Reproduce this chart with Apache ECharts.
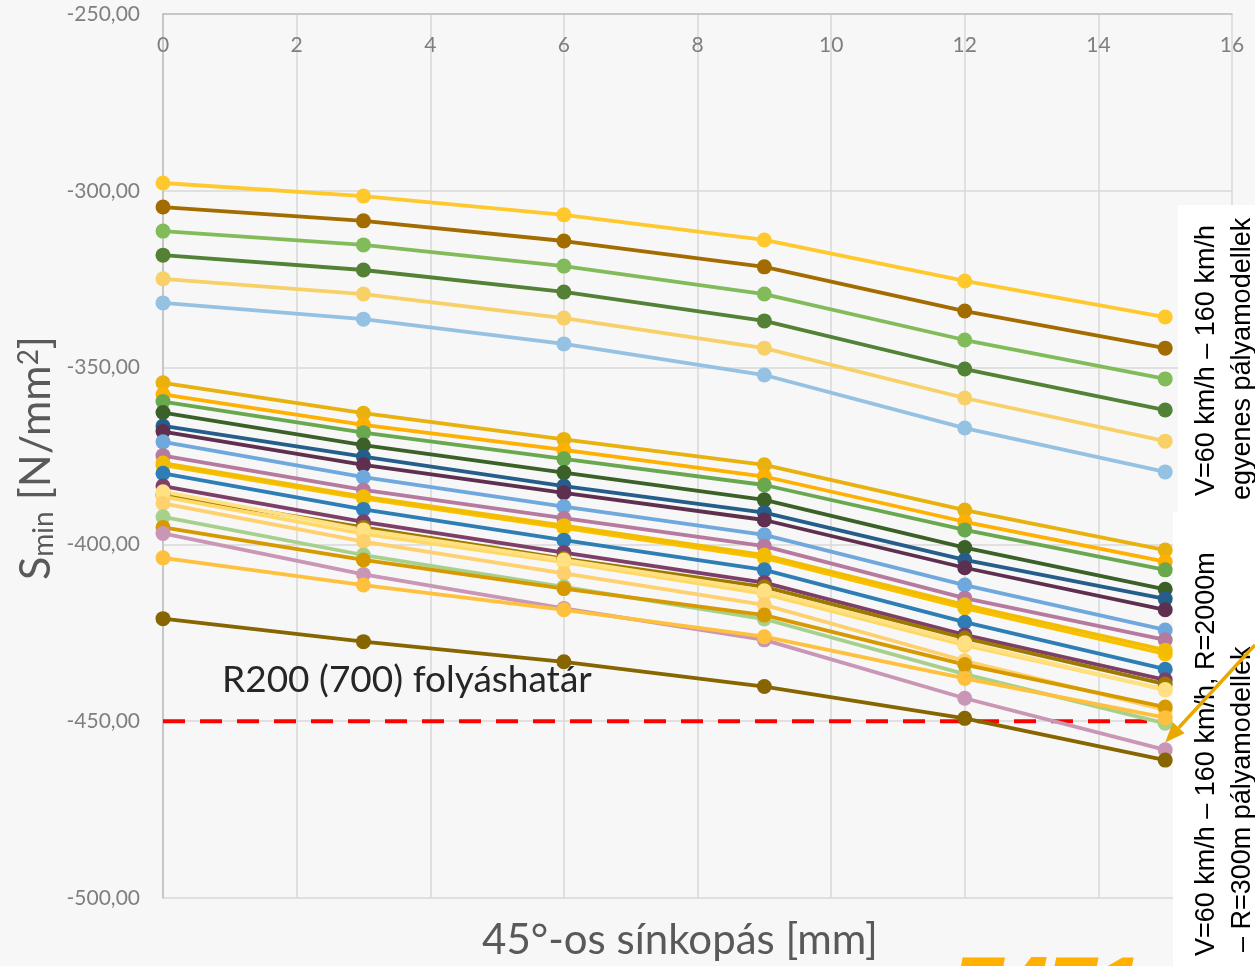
<!DOCTYPE html>
<html>
<head>
<meta charset="utf-8">
<script src="https://cdn.jsdelivr.net/npm/echarts@6/dist/echarts.min.js"></script>
<style>
  html, body { margin: 0; padding: 0; background: #f7f7f7; }
  #chart { width: 1255px; height: 966px; }
</style>
</head>
<body>
<div id="chart"></div>
<script>
// kopás értékek (x tengely)
const xValues = [0, 3, 6, 9, 12, 15];
const yTicks = [-500, -450, -400, -350, -300, -250];
const yieldLimit = -450;

// egyenes pályamodellek
const s01 = [-297.8, -301.5, -306.8, -313.9, -325.5, -335.7];
const s02 = [-304.6, -308.5, -314.2, -321.5, -334.0, -344.5];
const s03 = [-311.4, -315.3, -321.3, -329.2, -342.2, -353.2];
const s04 = [-318.2, -322.4, -328.6, -336.8, -350.4, -362.0];
const s05 = [-324.9, -329.2, -336.0, -344.5, -358.6, -370.8];
const s06 = [-331.7, -336.3, -343.3, -352.1, -367.1, -379.5];

// R=2000m ... R=300m pályamodellek
const s07 = [-354.3, -362.9, -370.3, -377.5, -390.3, -401.6];
const s08 = [-357.6, -366.2, -373.3, -380.8, -393.6, -404.9];
const s09 = [-359.6, -368.4, -375.8, -383.2, -395.9, -407.2];
const s10 = [-362.7, -371.9, -379.7, -387.4, -400.9, -412.7];
const s11 = [-366.5, -375.2, -383.5, -391.0, -404.4, -415.4];
const s12 = [-368.1, -377.5, -385.4, -393.1, -406.6, -418.5];
const s13 = [-371.0, -381.0, -389.3, -397.3, -411.5, -424.2];
const s14 = [-374.9, -384.6, -392.6, -400.5, -415.2, -427.0];
const s15 = [-377.6, -387.0, -395.3, -403.8, -418.0, -431.0];
const s16 = [-377.0, -386.5, -394.7, -403.0, -417.1, -429.9];
const s17 = [-379.9, -390.1, -398.8, -407.2, -422.0, -435.3];
const s18 = [-383.5, -393.6, -402.3, -410.8, -425.6, -438.3];
const s19 = [-386.0, -395.2, -404.0, -412.0, -426.5, -439.5];
const s20 = [-386.5, -397.0, -405.0, -414.0, -428.5, -441.0];
const s21 = [-385.1, -395.9, -404.4, -413.1, -427.8, -441.2];
const s22 = [-388.4, -399.2, -408.2, -417.1, -432.9, -446.8];
const s23 = [-392.2, -403.0, -412.0, -421.1, -436.7, -450.6];
const s24 = [-395.2, -404.4, -412.5, -420.0, -434.0, -446.0];
const s25 = [-396.9, -408.5, -418.1, -427.0, -443.5, -458.1];
const s26 = [-403.8, -411.5, -418.5, -426.1, -437.9, -449.0];
const s27 = [-421.0, -427.5, -433.2, -440.2, -449.2, -461.0];

const seriesList = [
  [s01, '#FFC92E'], [s02, '#A36C00'], [s03, '#82BC5A'], [s04, '#538135'],
  [s05, '#F7D068'], [s06, '#95C1E3'],
  [s07, '#E8B10E'], [s08, '#FFB000'], [s09, '#6AA84F'], [s10, '#3B6128'],
  [s11, '#255E8A'], [s12, '#5E2F4E'], [s13, '#6FA8DC'], [s14, '#B57A9E'],
  [s15, '#F9C000'], [s16, '#F2BC00'], [s17, '#2E7DB5'], [s18, '#7D3F68'],
  [s19, '#9C7A00'], [s20, '#FFD966'], [s21, '#FFE083'], [s22, '#FFD06E'],
  [s23, '#A8D08D'], [s24, '#D69A00'], [s25, '#C996B5'], [s26, '#FFC03E'],
  [s27, '#876500']
];

const chart = echarts.init(document.getElementById('chart'));

const series = seriesList.map(([vals, color], i) => ({
  name: 'S' + (i + 1),
  type: 'line',
  data: xValues.map((x, j) => [x, vals[j]]),
  symbol: 'circle',
  symbolSize: 15,
  lineStyle: { color: color, width: 3.8 },
  itemStyle: { color: color },
  z: 3,
  animation: false
}));

// folyáshatár
series.push({
  name: 'R200',
  type: 'line',
  data: [[xValues[0], yieldLimit], [xValues[xValues.length - 1] + 0.1, yieldLimit]],
  symbol: 'none',
  lineStyle: { color: '#FF0000', width: 4, type: [22, 15] },
  z: 2,
  animation: false
});

const option = {
  backgroundColor: '#f7f7f7',
  animation: false,
  grid: { left: 163, right: 23, top: 14, bottom: 68 },
  xAxis: {
    type: 'value',
    position: 'top',
    min: 0, max: 16, interval: 2,
    axisLine: { show: true, lineStyle: { color: '#BFBFBF', width: 1.5 } },
    axisTick: { show: false },
    axisLabel: { inside: true, margin: 21, color: '#7F7F7F', fontSize: 21, fontFamily: 'Lato' },
    splitLine: { show: true, lineStyle: { color: '#D9D9D9', width: 1.5 } }
  },
  yAxis: {
    type: 'value',
    min: yTicks[0], max: yTicks[yTicks.length - 1], interval: 50,
    axisLine: { show: true, lineStyle: { color: '#BFBFBF', width: 1.5 } },
    axisTick: { show: false },
    axisLabel: {
      margin: 23, color: '#7F7F7F', fontSize: 21, fontFamily: 'Lato',
      formatter: v => v.toFixed(2).replace('.', ',')
    },
    splitLine: { show: true, lineStyle: { color: '#D9D9D9', width: 1.5 } }
  },
  series: series
};
chart.setOption(option);

const tip = chart.convertToPixel({ gridIndex: 0 }, [15, -456]);
const ax = 1255, ay = 645;
const ang = Math.atan2(tip[1] - ay, tip[0] - ax);
const hl = 20, hw = 8;
const bx = tip[0] - hl * Math.cos(ang), by = tip[1] - hl * Math.sin(ang);

chart.setOption({
  graphic: [
    {
      type: 'text', left: 222, top: 662,
      style: { text: 'R200 (700) folyáshatár', fontSize: 37, fontFamily: 'Lato', fill: '#262626' }
    },
    {
      type: 'text', x: 680, y: 940,
      style: { text: '45°-os sínkopás [mm]', fontSize: 42, fontFamily: 'Lato', fill: '#595959',
        align: 'center', verticalAlign: 'middle' }
    },
    {
      type: 'text', x: 36, y: 458, rotation: Math.PI / 2,
      style: {
        text: '{s|S}{sub|min}{s| [N/mm}{sup|2}{s|]}',
        align: 'center', verticalAlign: 'middle', fill: '#595959', fontFamily: 'Lato',
        rich: {
          s: { fontSize: 43, fontFamily: 'Lato', fill: '#595959', verticalAlign: 'middle' },
          sub: { fontSize: 28, fontFamily: 'Lato', fill: '#595959', verticalAlign: 'bottom', padding: [15, 0, 0, 0] },
          sup: { fontSize: 28, fontFamily: 'Lato', fill: '#595959', verticalAlign: 'top', padding: [0, 0, 15, 0] }
        }
      }
    },
    {
      type: 'text', left: 955, top: 950, z: 1,
      style: { text: '7471 ´', fontSize: 84, fontWeight: 'bold', fontStyle: 'italic',
        fontFamily: 'Liberation Sans', fill: '#FFB000' }
    },
    // szövegdobozok
    { type: 'rect', shape: { x: 1178, y: 205, width: 77, height: 307 }, style: { fill: '#FFFFFF' }, z: 5 },
    { type: 'rect', shape: { x: 1173, y: 512, width: 82, height: 454 }, style: { fill: '#FFFFFF' }, z: 5 },
    {
      type: 'text', x: 1207, y: 496, rotation: Math.PI / 2, z: 6,
      style: { text: 'V=60 km/h – 160 km/h', fontSize: 27, fontFamily: 'Liberation Sans', fill: '#000',
        align: 'left', verticalAlign: 'middle' }
    },
    {
      type: 'text', x: 1243, y: 500, rotation: Math.PI / 2, z: 6,
      style: { text: 'egyenes pályamodellek', fontSize: 27, fontFamily: 'Liberation Sans', fill: '#000',
        align: 'left', verticalAlign: 'middle' }
    },
    {
      type: 'text', x: 1207, y: 956, rotation: Math.PI / 2, z: 6,
      style: { text: 'V=60 km/h – 160 km/h, R=2000m', fontSize: 27, fontFamily: 'Liberation Sans', fill: '#000',
        align: 'left', verticalAlign: 'middle' }
    },
    {
      type: 'text', x: 1243, y: 952, rotation: Math.PI / 2, z: 6,
      style: { text: '– R=300m pályamodellek', fontSize: 27, fontFamily: 'Liberation Sans', fill: '#000',
        align: 'left', verticalAlign: 'middle' }
    },
    // nyíl
    {
      type: 'line', z: 7,
      shape: { x1: ax, y1: ay, x2: bx, y2: by },
      style: { stroke: '#E8A800', lineWidth: 3.5 }
    },
    {
      type: 'polygon', z: 7,
      shape: { points: [
        [tip[0], tip[1]],
        [bx + hw * Math.sin(ang), by - hw * Math.cos(ang)],
        [bx - hw * Math.sin(ang), by + hw * Math.cos(ang)]
      ] },
      style: { fill: '#E8A800' }
    }
  ]
});
</script>
</body>
</html>
